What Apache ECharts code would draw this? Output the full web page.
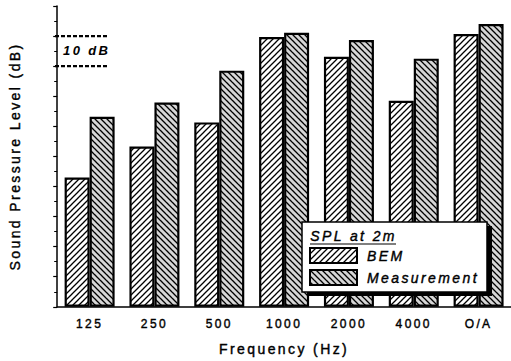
<!DOCTYPE html>
<html>
<head>
<meta charset="utf-8">
<script src="https://cdn.jsdelivr.net/npm/echarts@6/dist/echarts.min.js"></script>
<style>
  html, body { margin: 0; padding: 0; background: #fff; }
  #main { width: 511px; height: 361px; }
  /* the scanned figure uses wide letter tracking */
  #main text { letter-spacing: 2.4px; }
</style>
</head>
<body>
<div id="main"></div>
<script>
// categories and values (dB, relative scale, 10 dB per major tick)
let categories = ['125', '250', '500', '1000', '2000', '4000', 'O/A'];
let bemValues = [43.0, 53.3, 61.3, 89.7, 83.1, 68.5, 90.7];
let measValues = [63.2, 67.9, 78.5, 91.1, 88.7, 82.5, 94.0];

// hatch fills like the printed figure
function hatch(dir, grey) {
  let c = document.createElement('canvas');
  c.width = 6; c.height = 6;
  let g = c.getContext('2d');
  g.fillStyle = grey ? '#d6d6d6' : '#ffffff';
  g.fillRect(0, 0, 6, 6);
  if (grey) {
    g.fillStyle = '#ffffff';
    g.fillRect(1, 1, 1, 1); g.fillRect(4, 3, 1, 1);
  }
  g.strokeStyle = '#000';
  g.lineWidth = 1.3;
  g.beginPath();
  if (dir === '/') {
    g.moveTo(-1, 7); g.lineTo(7, -1);
    g.moveTo(-4, 4); g.lineTo(4, -4);
    g.moveTo(2, 10); g.lineTo(10, 2);
  } else {
    g.moveTo(-1, -1); g.lineTo(7, 7);
    g.moveTo(-4, 2); g.lineTo(4, 10);
    g.moveTo(2, -4); g.lineTo(10, 4);
  }
  g.stroke();
  return c;
}

let chart = echarts.init(document.getElementById('main'), null, {renderer: 'svg'});
let font = 'Liberation Sans, Arial, sans-serif';
// slight stroke to imitate the heavy scanned type
let ink = {textBorderColor: '#000', textBorderWidth: 0.4};

let option = {
  animation: false,
  backgroundColor: '#fff',
  grid: {left: 55, top: 6, width: 458, height: 302},
  legend: {
    data: ['BEM', 'Measurement'],
    orient: 'vertical',
    left: 309, top: 247,
    itemWidth: 47, itemHeight: 15, itemGap: 5,
    padding: 0,
    icon: 'rect',
    z: 20,
    textStyle: Object.assign({fontFamily: font, fontStyle: 'italic', fontSize: 14, color: '#000', padding: [0, 0, 0, 5]}, ink)
  },
  xAxis: [{
    type: 'category',
    data: categories,
    name: 'Frequency (Hz)',
    nameLocation: 'middle',
    nameGap: 35,
    nameTextStyle: Object.assign({fontFamily: font, fontSize: 14, color: '#000'}, ink),
    axisLine: {lineStyle: {color: '#000', width: 1.5}},
    axisTick: {length: 3, lineStyle: {color: '#000', width: 1.2}},
    axisLabel: Object.assign({fontFamily: font, fontSize: 12, color: '#000', margin: 11}, ink)
  }, {
    type: 'category',
    data: categories,
    position: 'bottom',
    axisLine: {show: false},
    axisTick: {alignWithLabel: true, length: 5, lineStyle: {color: '#000', width: 1.5}},
    axisLabel: {show: false}
  }],
  yAxis: {
    type: 'value',
    min: 0, max: 100, interval: 10,
    name: 'Sound Pressure Level (dB)',
    nameLocation: 'middle',
    nameGap: 35,
    nameTextStyle: Object.assign({fontFamily: font, fontSize: 14, color: '#000'}, ink),
    axisLine: {show: true, lineStyle: {color: '#000', width: 1.5}},
    axisTick: {show: true, length: 4, lineStyle: {color: '#000', width: 1.2}},
    minorTick: {show: true, splitNumber: 2, length: 3, lineStyle: {color: '#000', width: 1}},
    axisLabel: {show: false},
    splitLine: {show: false}
  },
  series: [{
    name: 'BEM',
    type: 'bar',
    data: bemValues,
    barWidth: 25,
    barGap: '0%',
    itemStyle: {color: {image: hatch('/', false), repeat: 'repeat'}, borderColor: '#000', borderWidth: 2.2}
  }, {
    name: 'Measurement',
    type: 'bar',
    data: measValues,
    barWidth: 25,
    barGap: '0%',
    itemStyle: {color: {image: hatch('\\', true), repeat: 'repeat'}, borderColor: '#000', borderWidth: 2.2}
  }]
};
chart.setOption(option);

// 10 dB scale marker and legend frame
let y90 = chart.convertToPixel({yAxisIndex: 0}, 90);
let y80 = chart.convertToPixel({yAxisIndex: 0}, 80);
chart.setOption({
  graphic: [
    {type: 'line', z: 10, shape: {x1: 55, y1: y90, x2: 109, y2: y90}, style: {stroke: '#000', lineWidth: 2.4, lineDash: [4, 2]}},
    {type: 'line', z: 10, shape: {x1: 55, y1: y80, x2: 109, y2: y80}, style: {stroke: '#000', lineWidth: 2.4, lineDash: [4, 2]}},
    {type: 'text', z: 10, left: 63, top: (y90 + y80) / 2 - 7,
      style: {text: '10 dB', fontFamily: font, fontSize: 13, fontWeight: 'bold', fontStyle: 'italic', fill: '#000'}},
    {type: 'rect', z: 10, shape: {x: 307, y: 226, width: 185, height: 70}, style: {fill: '#000'}},
    {type: 'rect', z: 11, shape: {x: 302, y: 222, width: 185, height: 70}, style: {fill: '#fff', stroke: '#000', lineWidth: 1.5}},
    {type: 'text', z: 12, left: 310, top: 229,
      style: Object.assign({text: 'SPL at 2m', fontFamily: font, fontSize: 14, fontStyle: 'italic', fill: '#000', stroke: '#000', lineWidth: 0.4})},
    {type: 'line', z: 12, shape: {x1: 310, y1: 244, x2: 396, y2: 244}, style: {stroke: '#000', lineWidth: 1.2}}
  ]
});
</script>
</body>
</html>
